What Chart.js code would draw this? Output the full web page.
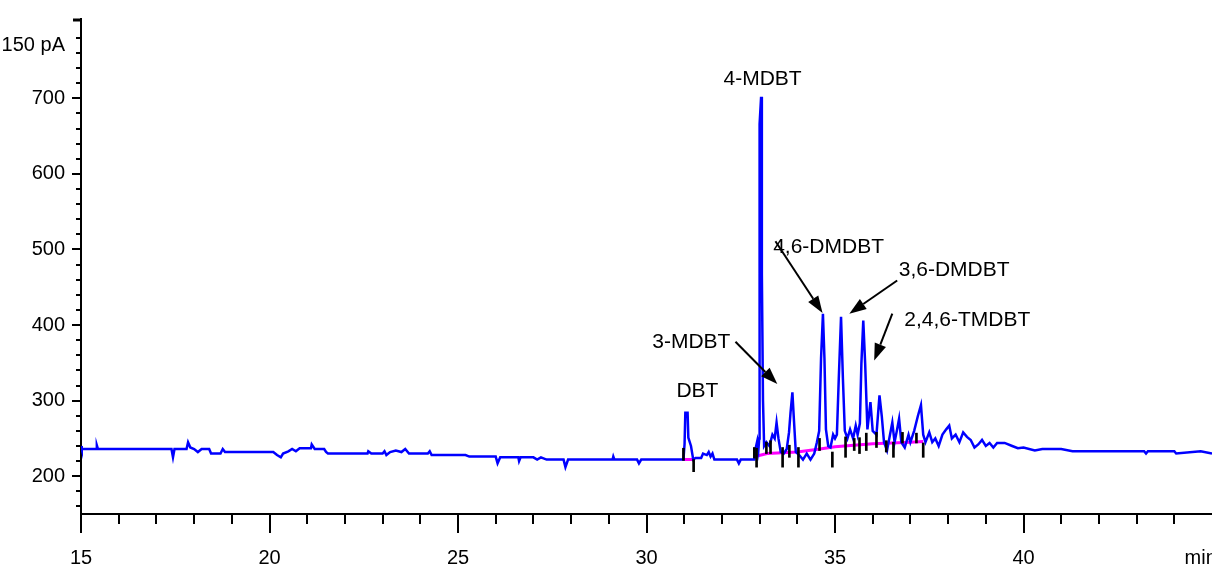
<!DOCTYPE html>
<html>
<head>
  <title>GC chromatogram - DBT compounds</title>
  <script src="https://cdn.jsdelivr.net/npm/chart.js"></script>
  <style>
    html, body { margin: 0; padding: 0; background: #fff; }
    #wrap { width: 1212px; height: 568px; }
  </style>
</head>
<body>
<div id="wrap"><canvas id="gc"></canvas></div>
<script>
  // detector trace: retention time (min) and signal
  const times = [
    15.00, 15.02, 15.40, 15.42, 15.45, 17.40, 17.44, 17.48, 17.80, 17.84, 17.90, 18.00, 18.10, 18.20, 18.40, 18.45,
    18.70, 18.76, 18.82, 20.00, 20.10, 20.20, 20.30, 20.36, 20.50, 20.60, 20.70, 20.80, 21.10, 21.12, 21.20, 21.45,
    21.50, 21.55, 22.60, 22.62, 22.70, 23.00, 23.05, 23.10, 23.20, 23.35, 23.50, 23.60, 23.70, 24.20, 24.25, 24.30,
    25.20, 25.30, 26.00, 26.05, 26.12, 26.60, 26.62, 26.66, 27.00, 27.10, 27.20, 27.35, 27.80, 27.85, 27.92, 29.10,
    29.12, 29.15, 29.75, 29.80, 29.86, 30.98,
    31.01, 31.03, 31.09, 31.11, 31.18, 31.24, 31.30, 31.45, 31.50, 31.60, 31.65, 31.70, 31.75, 31.80, 32.40, 32.45,
    32.50, 32.86, 32.90, 32.94, 32.97, 32.99, 33.00, 33.04, 33.06, 33.09, 33.12, 33.18, 33.26, 33.34, 33.40, 33.45,
    33.50, 33.56, 33.64, 33.72, 33.78, 33.82, 33.87, 33.91, 33.96, 34.05, 34.15, 34.25, 34.35, 34.45, 34.52,
    34.58, 34.63, 34.68, 34.72, 34.76, 34.82, 34.88, 34.95, 35.00, 35.05, 35.10, 35.16, 35.21, 35.26, 35.33, 35.40,
    35.48, 35.55, 35.60, 35.66, 35.70, 35.75, 35.80, 35.86, 35.94, 36.00, 36.10, 36.18, 36.24, 36.30, 36.38, 36.44,
    36.52, 36.58, 36.64, 36.70, 36.76, 36.85, 36.95, 37.00, 37.10, 37.20, 37.28, 37.34, 37.40, 37.50, 37.58, 37.66,
    37.75, 37.85, 37.95, 38.03, 38.10, 38.20, 38.30, 38.40, 38.50, 38.60, 38.70, 38.80, 38.90, 39.00, 39.10, 39.20,
    39.30, 39.50, 39.70, 39.85, 40.00, 40.30, 40.50, 41.00, 41.30, 42.50, 43.20, 43.25, 43.30, 44.00, 44.05, 44.70, 45.00
  ];
  const signal = [
    240, 236, 236, 241, 236, 236, 225, 236, 236, 245, 238, 236, 232, 236, 236, 230,
    230, 236, 232, 232, 232, 228, 225, 230, 233, 236, 233, 237, 237, 242, 236, 236,
    232, 230, 230, 233, 230, 230, 233, 228, 232, 234, 232, 236, 230, 230, 233, 228,
    228, 226, 226, 217, 225, 225, 220, 225, 225, 222, 225, 222, 222, 212, 222, 222,
    226, 222, 222, 217, 222, 222,
    243, 284, 284, 251, 240, 222, 224, 224, 230, 228, 232, 226, 230, 222, 222, 217,
    222, 222, 238, 247, 236, 250, 666, 702, 468, 300, 240, 245, 240, 255, 250, 271,
    250, 232, 230, 236, 258, 284, 311, 275, 232, 228, 222, 230, 222, 230, 245,
    260, 356, 415, 356, 262, 240, 238, 255, 250, 255, 329, 411, 329, 260, 250, 262,
    250, 267, 255, 270, 349, 406, 349, 262, 298, 260, 255, 307, 280, 245, 234, 250,
    271, 245, 260, 276, 245, 238, 255, 245, 260, 280, 294, 255, 245, 258, 245, 250,
    240, 255, 262, 267, 250, 255, 245, 258, 252, 248, 238, 242, 248, 240, 244, 238,
    244, 244, 240, 237, 238, 234, 236, 236, 233, 233, 233, 230, 233, 233, 230, 233, 230
  ];

  // integration baseline (null splits the two segments)
  const baseTimes = [30.98, 31.26, 31.50, 32.88, 33.20, 33.60, 34.00, 34.60, 35.00, 35.50, 36.00, 36.50, 37.00, 37.34];
  const baseValues = [222, 222, null, 226, 230, 231, 232, 236, 239, 241, 243, 244, 245, 246];

  // peak start / end markers
  const markTimes = [30.98, 31.25, 32.86, 32.92, 33.18, 33.29, 33.61, 33.79, 34.03, 34.59, 34.93,
                     35.28, 35.51, 35.65, 35.83, 36.10, 36.36, 36.55, 36.79, 37.16, 37.34];
  const markLow =  [221, 206, 224, 212, 230, 230, 212, 225, 212, 234, 212, 225, 234, 230, 234, 238, 232, 225, 244, 244, 225];
  const markHigh = [237, 222, 238, 237, 245, 247, 238, 241, 238, 250, 232, 252, 250, 251, 257, 258, 247, 245, 258, 257, 244];

  // axis ticks
  const xMinorTicks = [15, 16, 17, 18, 19, 20, 21, 22, 23, 24, 25, 26, 27, 28, 29, 30, 31, 32, 33, 34, 35, 36, 37, 38, 39, 40, 41, 42, 43, 44];
  const xMajorTicks = [15, 20, 25, 30, 35, 40];
  const xLabelValues = [15, 20, 25, 30, 35, 40, 44.7];
  const xLabels = ['15', '20', '25', '30', '35', '40', 'min'];
  const yMinorTicks = [160, 180, 200, 220, 240, 260, 280, 300, 320, 340, 360, 380, 400, 420, 440, 460, 480, 500,
                       520, 540, 560, 580, 600, 620, 640, 660, 680, 700, 720, 740, 760, 780];
  const yMajorTicks = [200, 300, 400, 500, 600, 700];
  const yLabelValues = [200, 300, 400, 500, 600, 700, 770];
  const yLabels = ['200', '300', '400', '500', '600', '700', '150 pA'];

  // peak names with arrows (data coordinates)
  const peakNames = ['4-MDBT', 'DBT', '3-MDBT', '4,6-DMDBT', '3,6-DMDBT', '2,4,6-TMDBT'];
  const nameAt = [[33.08, 725], [31.35, 313], [31.19, 377], [34.83, 503], [38.16, 472], [38.51, 406]];
  const arrows = [
    [[32.36, 378], [33.47, 322]],
    [[33.42, 511], [34.67, 416]],
    [[36.65, 459], [35.38, 415]],
    [[36.52, 415], [36.04, 353]]
  ];

  const tickFont = { family: '"Liberation Sans", Arial, sans-serif', size: 20 };

  function drawArrow(ctx, x1, y1, x2, y2) {
    const a = Math.atan2(y2 - y1, x2 - x1);
    const len = 17, half = 6;
    const bx = x2 - len * Math.cos(a), by = y2 - len * Math.sin(a);
    ctx.beginPath();
    ctx.moveTo(x1, y1);
    ctx.lineTo(bx, by);
    ctx.stroke();
    ctx.beginPath();
    ctx.moveTo(x2, y2);
    ctx.lineTo(bx + half * Math.sin(a), by - half * Math.cos(a));
    ctx.lineTo(bx - half * Math.sin(a), by + half * Math.cos(a));
    ctx.closePath();
    ctx.fill();
  }

  // tick marks of two lengths, peak names and arrows
  const gcDecor = {
    id: 'gcDecor',
    afterDraw(chart) {
      const { ctx } = chart;
      const x = chart.scales.x, y = chart.scales.y;
      ctx.save();
      ctx.strokeStyle = '#000';
      ctx.fillStyle = '#000';
      ctx.lineWidth = 2;
      ctx.beginPath();
      xMinorTicks.forEach(v => {
        const px = Math.round(x.getPixelForValue(v));
        ctx.moveTo(px, y.bottom);
        ctx.lineTo(px, y.bottom + (xMajorTicks.includes(v) ? 19 : 10));
      });
      yMinorTicks.forEach(v => {
        const py = Math.round(y.getPixelForValue(v));
        ctx.moveTo(x.left, py);
        ctx.lineTo(x.left - (yMajorTicks.includes(v) ? 9 : 5), py);
      });
      ctx.stroke();
      ctx.lineWidth = 3;
      ctx.beginPath();
      ctx.moveTo(x.left - 8, y.top + 1);
      ctx.lineTo(x.left, y.top + 1);
      ctx.stroke();

      ctx.font = '21px "Liberation Sans", Arial, sans-serif';
      ctx.textAlign = 'center';
      ctx.textBaseline = 'middle';
      peakNames.forEach((name, i) => {
        ctx.fillText(name, x.getPixelForValue(nameAt[i][0]), y.getPixelForValue(nameAt[i][1]));
      });
      ctx.lineWidth = 2;
      arrows.forEach(([from, to]) => {
        drawArrow(ctx,
          x.getPixelForValue(from[0]), y.getPixelForValue(from[1]),
          x.getPixelForValue(to[0]), y.getPixelForValue(to[1]));
      });
      ctx.restore();
    }
  };

  Chart.defaults.color = '#000';

  new Chart(document.getElementById('gc'), {
    type: 'line',
    data: {
      datasets: [
        {
          type: 'bar',
          data: markTimes.map((t, i) => ({ x: t, y: [markLow[i], markHigh[i]] })),
          backgroundColor: '#000',
          barThickness: 2,
          grouped: false,
          order: 0
        },
        {
          data: times.map((t, i) => ({ x: t, y: signal[i] })),
          borderColor: '#0000ff',
          borderWidth: 2.5,
          pointRadius: 0,
          tension: 0,
          order: 1
        },
        {
          data: baseTimes.map((t, i) => ({ x: t, y: baseValues[i] })),
          borderColor: '#ff00ff',
          borderWidth: 3,
          pointRadius: 0,
          spanGaps: false,
          order: 2
        }
      ]
    },
    options: {
      responsive: true,
      maintainAspectRatio: false,
      animation: false,
      events: [],
      layout: { padding: { top: 19, right: 0, bottom: 0, left: 0 } },
      plugins: { legend: { display: false }, tooltip: { enabled: false } },
      scales: {
        x: {
          type: 'linear',
          min: 15,
          max: 45,
          offset: false,
          border: { display: true, color: '#000', width: 2 },
          grid: { display: true, drawOnChartArea: false, drawTicks: true, tickLength: 10, tickColor: 'rgba(0,0,0,0)' },
          afterBuildTicks: scale => { scale.ticks = xLabelValues.map(v => ({ value: v })); },
          afterFit: scale => { scale.paddingLeft = 0; scale.paddingRight = 0; scale.height = 54; },
          ticks: {
            autoSkip: false,
            maxRotation: 0,
            padding: 22,
            font: tickFont,
            callback: (val, i) => xLabels[i]
          }
        },
        y: {
          type: 'linear',
          min: 150,
          max: 805,
          border: { display: true, color: '#000', width: 2 },
          grid: { display: true, drawOnChartArea: false, drawTicks: true, tickLength: 10, tickColor: 'rgba(0,0,0,0)' },
          afterBuildTicks: scale => { scale.ticks = yLabelValues.map(v => ({ value: v })); },
          afterFit: scale => { scale.paddingTop = 0; scale.paddingBottom = 0; scale.width = 81; },
          ticks: {
            autoSkip: false,
            padding: 6,
            font: tickFont,
            callback: (val, i) => yLabels[i]
          }
        }
      }
    },
    plugins: [gcDecor]
  });
</script>
</body>
</html>
